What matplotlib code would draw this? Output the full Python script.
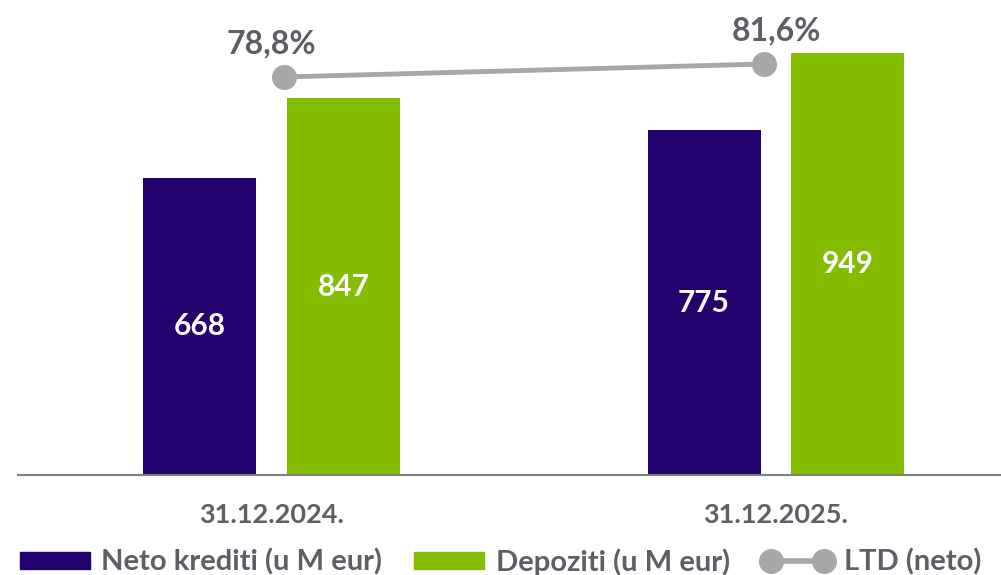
import numpy as np
import matplotlib
matplotlib.use('Agg')
import matplotlib.pyplot as plt
from matplotlib.lines import Line2D
from matplotlib.patches import Patch

plt.rcParams['font.family'] = ['Lato', 'DejaVu Sans']

dates = ['31.12.2024.', '31.12.2025.']
krediti = [668, 775]
depoziti = [847, 949]
ltd = [78.8, 81.6]
ltd_labels = ['78,8%', '81,6%']

navy = '#22006e'
green = '#84bc00'
grey_line = '#a7a7a9'
grey_text = '#5c6066'

fig = plt.figure(figsize=(10.01, 5.75), dpi=100)
ax = fig.add_axes([18 / 1001, 100 / 575, 983 / 1001, 475 / 575])

x = np.arange(len(dates))
w = 0.224
off = 0.1427

b1 = ax.bar(x - off, krediti, w, color=navy)
b2 = ax.bar(x + off, depoziti, w, color=green)

for bars, vals in ((b1, krediti), (b2, depoziti)):
    for r, v in zip(bars, vals):
        ax.text(r.get_x() + r.get_width() / 2, v / 2, str(v), ha='center', va='center',
                color='white', fontsize=21.5, fontweight='bold')

ax.set_xlim(-0.5025, 1.446)
ax.set_ylim(0, 1068)
ax.set_yticks([])
ax.set_xticks(x)
ax.set_xticklabels(dates, fontsize=19.5, fontweight='bold', color=grey_text)
ax.tick_params(axis='x', length=0, pad=20)
for s in ('top', 'right', 'left'):
    ax.spines[s].set_visible(False)
ax.spines['bottom'].set_color('#7f7f7f')
ax.spines['bottom'].set_linewidth(1.5)

# LTD on a second axis
ax2 = ax.twinx()
ax2.set_ylim(-6.92, 95.38)
ax2.set_yticks([])
for s in ax2.spines.values():
    s.set_visible(False)
lx = 0.5 + (x - 0.5) * 0.951
ax2.plot(lx, ltd, color=grey_line, lw=3.5, marker='o', ms=17, zorder=5)
for xi, v, lab in zip(x, ltd, ltd_labels):
    ax2.annotate(lab, (xi, v), xytext=(0, 24), textcoords='offset points',
                 ha='center', va='center', fontsize=23, fontweight='bold', color=grey_text)

handles = [
    Patch(color=navy, label='Neto krediti (u M eur)'),
    Patch(color=green, label='Depoziti (u M eur)'),
    Line2D([], [], color=grey_line, lw=4, marker='o', ms=17, label='LTD (neto)'),
]
leg = fig.legend(handles=handles, loc='center', bbox_to_anchor=(0.5, 13 / 575), ncol=3,
                 frameon=False, fontsize=21, handlelength=2.4, handleheight=0.5,
                 handletextpad=0.4, columnspacing=1.1, borderaxespad=0, numpoints=2)
for t in leg.get_texts():
    t.set_color(grey_text)
    t.set_fontweight('bold')

fig.savefig('out.png', dpi=100)
